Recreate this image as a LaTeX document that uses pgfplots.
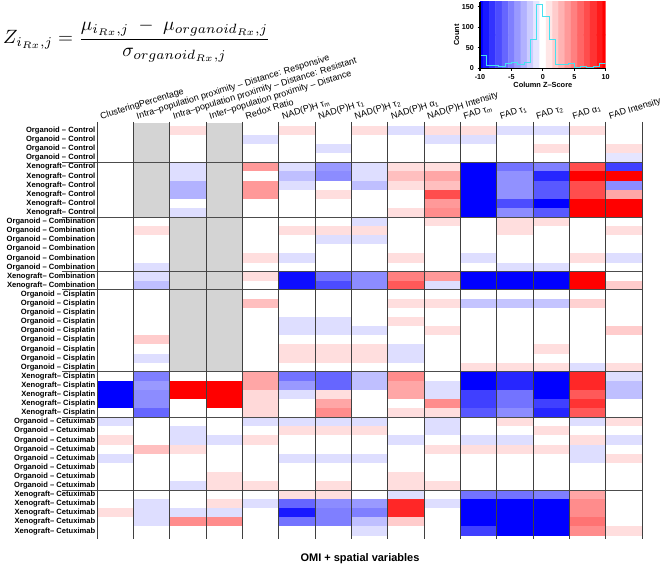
\documentclass[border=0pt]{standalone}
\usepackage{fontspec}
\setmainfont{Liberation Sans}
\usepackage{pgfplots}
\usepackage{pgfplotstable}
\pgfplotsset{compat=1.18}

% one heatmap cell, 1 column x 1 row in the main axis
\pgfdeclareplotmark{cell}{%
  \pgfpathrectangle{\pgfpoint{-18.35bp}{-4.65bp}}{\pgfpoint{36.7bp}{9.3bp}}%
  \pgfusepathqfill}

\pgfplotsset{colormap={bwr}{rgb255=(0,0,255) rgb255=(255,255,255) rgb255=(255,0,0)}}

% column z-scores, one line per sample (grey cells are 0 here, drawn over)
\pgfplotstableread{
c0 c1 c2 c3 c4 c5 c6 c7 c8 c9 c10 c11 c12 c13 c14
0 0 1.3 0 0 1.3 0 1.3 -1.3 1.3 1.3 -1.3 -1.3 1.3 0
0 0 0 0 -1.3 0 0 0 0 -1.3 -1.3 0 0 0 0
0 0 0 0 0 0 -1.3 0 0 0 0 0 1.3 0 1.3
0 0 0 0 0 0 0 0 0 0 0 0 0 0 -1
0 0 -1.3 0 4 -1.3 -4 -1.3 1.3 1.3 -10 -5.5 -5 7 -7.5
0 0 -1.3 0 0 -2.5 -4.5 -1.3 2.5 3.5 -10 -4.3 -8.5 10 10
0 0 -3 0 4 -1.3 0 -2.5 1.3 2.5 -10 -4.3 -6.5 7 -4.5
0 0 -3 0 4 0 1.3 0 0 7 -10 -4.3 -6.5 7 3.5
0 0 0 0 0 0 0 0 0 4 -10 -7 -10 10 10
0 0 -1.3 0 0 0 0 0 1.3 4.5 -10 -4.5 -6.5 10 10
0 0 0 0 0 0 0 -1.3 0 1.3 0 1.3 1.3 0 0
0 1.3 0 0 0 1.3 1.3 1.3 0 0 0 1.3 0 0 1.3
0 0 0 0 0 0 -1.3 -1.3 0 0 0 0 0 0 0
0 0 0 0 0 0 0 0 0 0 0 0 0 0 0
0 0 0 0 1.3 -1.3 0 0 1.3 0 -1.3 0 0 1.3 -1.3
0 -1.3 0 0 0 0 0 0 0 0 0 -1.3 -1.3 0 0
0 -1.3 0 0 1.3 -9.5 -5.5 -4.5 5 4 -10 -10 -10 10 0
0 -2.5 0 0 0 -9.5 -7 -4.5 6.5 -1.3 -10 -10 -10 10 2
0 0 0 0 0 0 0 0 0 0 0 0 0 0 0
0 0 0 0 2.5 0 0 0 1.3 1.3 -2.3 -2.3 -2.3 1.8 0
0 0 0 0 0 0 0 0 0 0 0 0 0 0 0
0 0 0 0 0 -1.3 -1.3 0 1.3 0 0 0 0 0 0
0 0 0 0 0 -1.3 -1.3 -1.3 0 1.3 0 0 0 0 2
0 2 0 0 0 0 0 0 0 0 0 0 0 0 0
0 0 0 0 0 1.3 1.3 1.3 -1.3 0 0 0 1.3 0 0
0 -1.3 0 0 0 1.3 1.3 1.3 -1.3 0 0 0 0 0 0
0 0 0 0 0 0 0 0 0 0 1.3 1.3 1.3 -1.3 1.3
0 -5 0 0 3.5 -5.5 -6 -2.5 4.5 0 -10 -8.5 -10 8.5 -1.3
-10 -4 10 10 3.5 -4 -6 -2.5 3.5 -1.3 -10 -8.5 -10 8.5 -2.5
-10 -4.5 10 10 1.5 -1.3 1.3 0 3.5 -1.3 -7.5 -5.5 -10 6.5 -2.5
-10 -4.5 0 10 1.5 0 3.5 0 0 4.5 -7.5 -5.5 -7.5 8 0
0 -6 0 0 1.5 0 4.5 0 1.3 1.3 -6.5 -4.5 -8.5 6.5 0
-1.3 0 0 0 -1.3 -1.3 -1.3 -1.3 0 -1.3 0 1.3 0 -1.3 1.3
0 0 -1.3 0 0 1.3 1.3 1.3 0 -1.3 0 0 1.3 0 0
1.3 0 -1.3 -1.3 1.3 0 0 0 -1.3 0 -1.3 -1.3 0 1.3 -1.3
0 2.5 1.3 0 0 0 0 0 0 1.3 1.3 1.3 1.3 -1.3 0
-1.3 0 0 0 0 -1.3 -1.3 -1.3 0 0 0 0 0 -1.3 1.3
0 0 0 0 0 0 0 0 0 0 0 0 0 0 0
0 0 0 1.3 0 0 0 0 1.3 0 0 0 0 0 0
0 0 -1.3 1.3 1.3 0 1.3 0 1.3 1.3 0 0 0 0 0
0 0 0 0 0 1.3 1.3 0 -1.3 0 -5.5 -5.5 -5 3.5 0
0 -1.3 0 1.3 -1.3 -6 -4.5 -4 8.5 -1.3 -10 -10 -10 4.5 0
1.3 -1.3 -1.3 -1.3 0 -9 -5 -5 8.5 0 -10 -10 -10 4.5 0
0 -1.3 4.5 4.5 0 -5.5 -5 -2.5 2 0 -10 -10 -10 5.5 0
0 0 0 0 0 0 0 -1.3 0 0 -7.5 -10 -10 4.5 1.3
}\heat

\def\OC{Organoid – Control}
\def\XC{Xenograft– Control}
\def\OB{Organoid – Combination}
\def\XB{Xenograft– Combination}
\def\OS{Organoid – Cisplatin}
\def\XS{Xenograft– Cisplatin}
\def\OT{Organoid – Cetuximab}
\def\XT{Xenograft– Cetuximab}

\begin{document}
\begin{tikzpicture}[x=1bp,y=1bp]
\path[use as bounding box] (0,0) rectangle (669,568);

% formula
\node[anchor=west, inner sep=0pt] at (3,527) {\resizebox{267bp}{!}{$\displaystyle
  Z_{i_{Rx},j}=\frac{\mu_{i_{Rx},j}\;-\;\mu_{organoid_{Rx},j}}{\sigma_{organoid_{Rx},j}}$}};

% main heatmap
\begin{axis}[
    at={(97bp,29bp)}, anchor=south west,
    scale only axis, width=545bp, height=417bp,
    xmin=-0.5, xmax=14.5, ymin=-0.95, ymax=44.87,
    y dir=reverse,
    clip=false, clip marker paths=true,
    axis on top,
    axis line style={draw=none},
    colormap name=bwr, point meta min=-10, point meta max=10,
    major tick length=0pt, minor tick length=0pt,
    xtick={-0.36,0.64,1.64,2.64,3.64,4.64,5.64,6.64,7.64,8.64,9.64,10.64,11.64,12.64,13.64},
    xticklabels={ClusteringPercentage,
      {Intra–population proximity – Distance: Responsive},
      {Intra–population proximity – Distance: Resistant},
      {Inter–population proximity – Distance},
      Redox Ratio,
      {NAD(P)H τ\textsubscript{m}}, {NAD(P)H τ\textsubscript{1}}, {NAD(P)H τ\textsubscript{2}},
      {NAD(P)H α\textsubscript{1}}, NAD(P)H Intensity,
      {FAD τ\textsubscript{m}}, {FAD τ\textsubscript{1}}, {FAD τ\textsubscript{2}},
      {FAD α\textsubscript{1}}, FAD Intensity},
    xticklabel pos=upper,
    xticklabel style={rotate=17, anchor=base west, inner sep=0pt,
      font=\fontsize{9bp}{10bp}\selectfont, yshift=3bp},
    minor xtick={-0.5,0.5,1.5,2.5,3.5,4.5,5.5,6.5,7.5,8.5,9.5,10.5,11.5,12.5,13.5,14.5},
    xminorgrids, minor x grid style={black!75, line width=0.8bp},
    ytick={0,...,44},
    yticklabels={\OC,\OC,\OC,\OC,\XC,\XC,\XC,\XC,\XC,\XC,
      \OB,\OB,\OB,\OB,\OB,\OB,\XB,\XB,
      \OS,\OS,\OS,\OS,\OS,\OS,\OS,\OS,\OS,\XS,\XS,\XS,\XS,\XS,
      \OT,\OT,\OT,\OT,\OT,\OT,\OT,\OT,\XT,\XT,\XT,\XT,\XT},
    yticklabel style={anchor=east, inner sep=0pt, xshift=-1.5bp,
      font=\fontsize{7.6bp}{8bp}\selectfont\bfseries},
]
\pgfplotsinvokeforeach{0,...,14}{
  \addplot[scatter, only marks, mark=cell,
    scatter/use mapped color={fill=mapped color, draw=none},
    point meta=explicit]
    table[x expr=#1, y expr=\coordindex, meta=c#1] {\heat};
}
% missing values
\addplot[fill=black!17, draw=none] coordinates {(0.5,-0.85) (1.5,-0.85) (1.5,9.5) (0.5,9.5)} -- cycle;
\addplot[fill=black!17, draw=none] coordinates {(2.5,-0.85) (3.5,-0.85) (3.5,9.5) (2.5,9.5)} -- cycle;
\addplot[fill=black!17, draw=none] coordinates {(1.5,9.5) (3.5,9.5) (3.5,26.5) (1.5,26.5)} -- cycle;
% group separators
\pgfplotsinvokeforeach{3.5,9.5,15.5,17.5,26.5,31.5,39.5}{
  \addplot[black!70, line width=0.9bp] coordinates {(-1.46,#1) (14.5,#1)};
}
\end{axis}

% colour key with histogram
\begin{axis}[
    at={(480bp,499.7bp)}, anchor=south west,
    scale only axis, width=125.7bp, height=66.6bp,
    xmin=-10, xmax=10, ymin=0, ymax=162,
    axis x line*=bottom, axis y line*=left,
    axis line style={line width=1.2bp, -},
    tick style={line width=1.1bp, black},
    tick align=outside, major tick length=2.5bp,
    xtick={-10,-5,0,5,10}, ytick={0,50,100,150},
    tick label style={font=\fontsize{7.2bp}{8bp}\selectfont\bfseries},
    /pgf/number format/assume math mode=true,
    xlabel={Column Z–Score}, ylabel={Count},
    label style={font=\fontsize{7.4bp}{8bp}\selectfont\bfseries},
    xlabel style={yshift=4bp}, ylabel style={yshift=-4bp},
    colormap name=bwr, point meta min=-10, point meta max=10,
    axis on top,
]
\addplot[matrix plot*, mesh/cols=21, point meta=x] coordinates {
  (-10,0) (-9,0) (-8,0) (-7,0) (-6,0) (-5,0) (-4,0) (-3,0) (-2,0) (-1,0) (0,0)
  (1,0) (2,0) (3,0) (4,0) (5,0) (6,0) (7,0) (8,0) (9,0) (10,0)
  (-10,162) (-9,162) (-8,162) (-7,162) (-6,162) (-5,162) (-4,162) (-3,162) (-2,162) (-1,162) (0,162)
  (1,162) (2,162) (3,162) (4,162) (5,162) (6,162) (7,162) (8,162) (9,162) (10,162)
};
\addplot[const plot, color={rgb,255:red,70;green,225;blue,240}, line width=1bp] coordinates {
  (-10,32) (-9,6) (-8,7) (-7,5) (-6,12) (-5,15) (-4,10) (-3,14) (-2,69) (-1,156)
  (0,127) (1,70) (2,10) (3,8) (4,12) (5,3) (6,5) (7,1) (8,4) (9,12) (10,12)
};
\end{axis}

\node[font=\fontsize{11bp}{13bp}\selectfont\bfseries] at (360,9) {OMI + spatial variables};
\end{tikzpicture}
\end{document}
